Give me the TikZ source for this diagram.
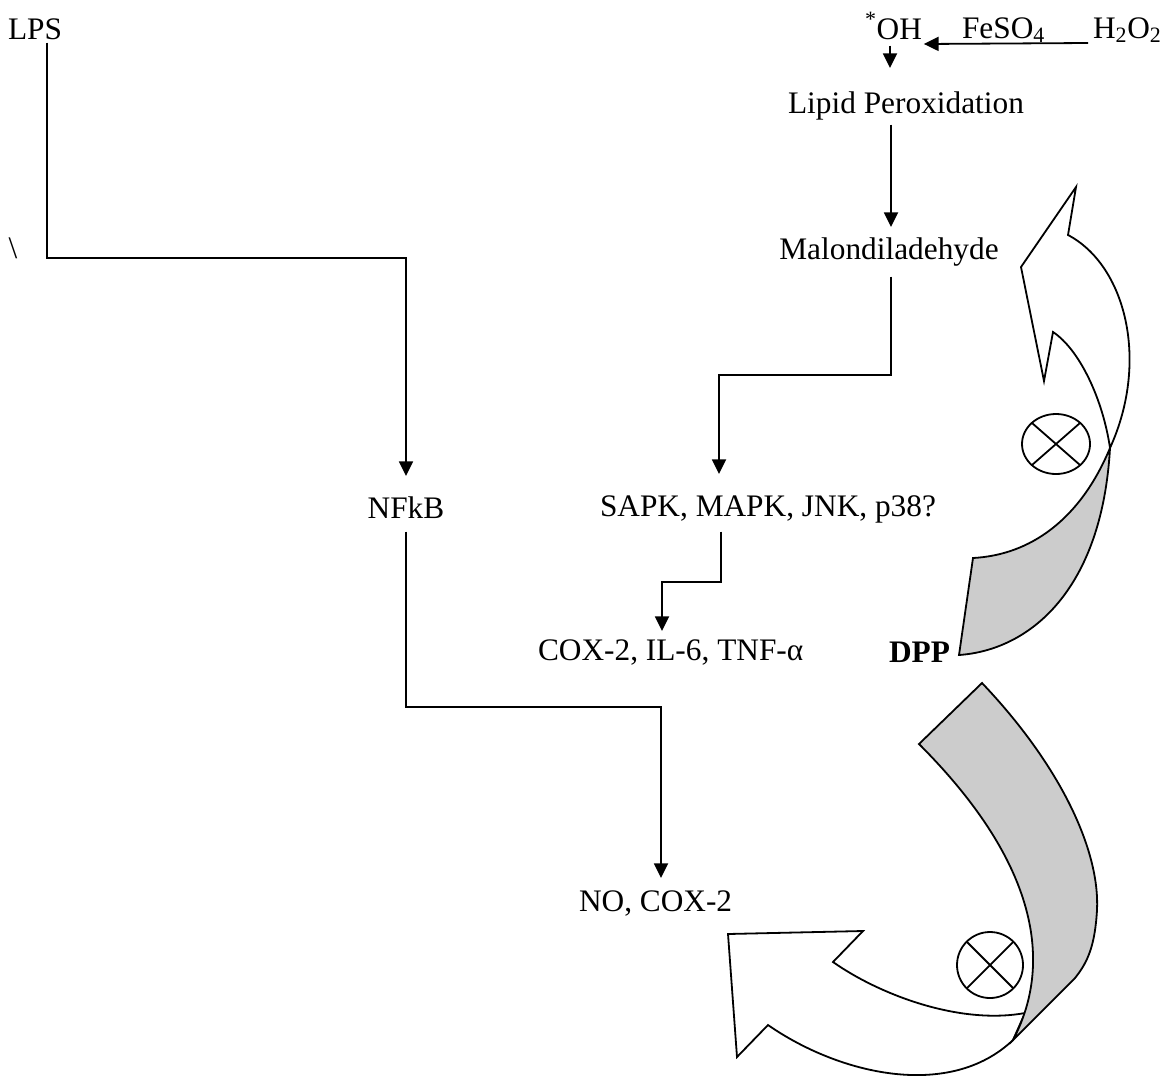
\documentclass[tikz,border=0pt]{standalone}
\usepackage{fontspec}
\setmainfont{Liberation Serif}
\usetikzlibrary{arrows.meta,calc}
\begin{document}
\begin{tikzpicture}[x=0.75pt,y=-0.75pt,
  txt/.style={inner sep=0pt, outer sep=0pt, text height=16.5pt, text depth=5pt,
              font=\fontsize{23.5pt}{28pt}\selectfont},
  conn/.style={line width=1.35pt},
  arr/.style={conn, -{Triangle[length=11pt,width=10.5pt]}},
  ribbon/.style={line width=1.35pt, line join=miter, fill=white},
  twist/.style={line width=1.35pt, line join=miter, fill=black!20},
  blocker/.style={line width=1.35pt}]
\useasboundingbox (0,0) rectangle (1167,1082);

% texts
\node[txt, anchor=base west] (lps)  at (8,39)    {LPS};
\node[txt, anchor=base]      (bsl)  at (13,258)  {\textbackslash};
\node[txt, anchor=base]      (nfkb) at (406,518) {NFkB};
\node[txt, anchor=base west] (sapk) at (600,516) {SAPK, MAPK, JNK, p38?};
\node[txt, anchor=base west] (cox)  at (538,660) {COX-2, IL-6, TNF-α};
\node[txt, anchor=base west, font=\fontsize{23.5pt}{28pt}\selectfont\bfseries] (dpp) at (889,662) {DPP};
\node[txt, anchor=base west] (no)   at (579,911) {NO, COX-2};
\node[txt, anchor=base west] (oh)   at (865,39)  {\textsuperscript{*}OH};
\node[txt, anchor=base west] (feso) at (962,38)  {FeSO\textsubscript{4}};
\node[txt, anchor=base west] (hho)  at (1093,38) {H\textsubscript{2}O\textsubscript{2}};
\node[txt, anchor=base]      (lip)  at (906,113) {Lipid Peroxidation};
\node[txt, anchor=base]      (mal)  at (889,259) {Malondiladehyde};

% elbow coordinates
\coordinate (c1) at (47,258);
\coordinate (c2) at (661,707);
\coordinate (c3) at (719,375);
\coordinate (c4) at (662,582);
\coordinate (c5) at (891,0);

% connectors
\draw[arr] ($(c1 |- lps.south)+(0,-3)$) -- (c1) -| ($(nfkb.north)+(0,-20)$);
\draw[arr] ($(nfkb.south)+(0,7)$) |- (c2) -- ($(c2 |- no.north)+(0,-11)$);
\draw[arr] ($(hho.base west)+(-5,5)$) -- ($(oh.base east)+(2,5)$);
\draw[arr] ($(c5 |- oh.south)+(-1,0)$) -- ($(c5 |- lip.north)+(-1,-23)$);
\draw[arr] ($(c5 |- lip.south)+(0,5)$) -- ($(c5 |- mal.north)+(0,-10)$);
\draw[arr] ($(c5 |- mal.south)+(0,11)$) |- (c3) -- ($(c3 |- sapk.north)+(0,-20)$);
\draw[arr] ($(sapk.south)+(-47,9)$) |- (c4) -- ($(c4 |- cox.north)+(0,-7)$);

% upper curved arrow (white part)
\draw[ribbon] (1110,448) .. controls (1103,400) and (1080,350) .. (1053,332)
  -- (1044,381) -- (1021,267) -- (1076,187) -- (1068,235)
  .. controls (1125,265) and (1150,360) .. (1110,448) -- cycle;
% upper twisted part (grey)
\draw[twist] (1110,448) .. controls (1080,520) and (1030,555) .. (973,558)
  -- (959,655) .. controls (1030,650) and (1102,590) .. (1110,448) -- cycle;
\draw[blocker] (1056,444) ellipse [x radius=34, y radius=30];
\draw[blocker] (1032,423) -- (1080,465) (1080,423) -- (1032,465);

% lower curved arrow (white part)
\draw[ribbon] (1025,1013) .. controls (960,1025) and (880,995) .. (833,962)
  -- (863,931) -- (728,934) -- (737,1057) -- (768,1025)
  .. controls (840,1075) and (950,1100) .. (1013,1040) -- cycle;
% lower twisted part (grey)
\draw[twist] (982,683) .. controls (1060,765) and (1100,850) .. (1097,910)
  .. controls (1095,945) and (1088,962) .. (1075,978) -- (1013,1040)
  .. controls (1050,970) and (1045,870) .. (919,744) -- cycle;
\draw[blocker] (990,965) circle [radius=33];
\draw[blocker] (967,942) -- (1013,988) (1013,942) -- (967,988);
\end{tikzpicture}
\end{document}
